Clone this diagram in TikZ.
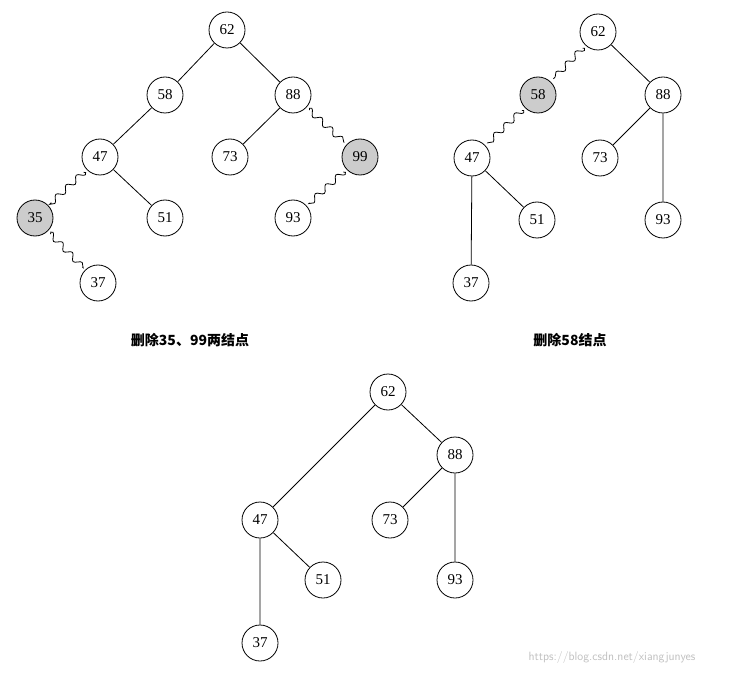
\documentclass[tikz,border=0pt]{standalone}
\usepackage{fontspec}
\setmainfont{Liberation Serif}
\newfontfamily\cjk{Noto Sans CJK SC}
\usetikzlibrary{decorations.pathmorphing}
\begin{document}
\begin{tikzpicture}[x=1pt,y=-1pt,
  nd/.style={circle,draw,thick,minimum size=36pt,inner sep=0pt,font=\fontsize{15}{15}\selectfont},
  gr/.style={nd,fill=black!20},
  ed/.style={thick},
  wv/.style={thick,decorate,decoration={snake,amplitude=3pt,segment length=14pt},shorten <=4pt,shorten >=4pt},
  captxt/.style={font=\cjk\bfseries\fontsize{14}{14}\selectfont}]
\useasboundingbox (0,0) rectangle (738,676);
% tree 1
\node[nd] (a62) at (227,30) {62};
\node[nd] (a58) at (165,95) {58};
\node[nd] (a88) at (293,95) {88};
\node[nd] (a47) at (100,157) {47};
\node[nd] (a73) at (230,157) {73};
\node[gr] (a99) at (360,157) {99};
\node[gr] (a35) at (35,218) {35};
\node[nd] (a51) at (165,218) {51};
\node[nd] (a93) at (293,218) {93};
\node[nd] (a37) at (98,283) {37};
\draw[ed] (a62)--(a58) (a62)--(a88) (a58)--(a47) (a88)--(a73) (a47)--(a51);
\draw[wv] (a88)--(a99);
\draw[wv] (a99)--(a93);
\draw[wv] (a47)--(a35);
\draw[wv] (a35)--(a37);
\node[captxt] (c1) at (190,340) {删除35、99两结点};
% tree 2
\node[nd] (b62) at (598,32) {62};
\node[gr] (b58) at (538,95) {58};
\node[nd] (b88) at (663,95) {88};
\node[nd] (b47) at (472,158) {47};
\node[nd] (b73) at (600,158) {73};
\node[nd] (b51) at (537,220) {51};
\node[nd] (b93) at (663,220) {93};
\node[nd] (b37) at (471,283) {37};
\draw[ed] (b62)--(b88) (b88)--(b73) (b88)--(b93) (b47)--(b51) (b47)--(b37);
\draw[wv] (b62)--(b58);
\draw[wv] (b58)--(b47);
\node[captxt] (c2) at (570,340) {删除58结点};
% tree 3
\node[nd] (d62) at (388,392) {62};
\node[nd] (d88) at (455,455) {88};
\node[nd] (d47) at (260,520) {47};
\node[nd] (d73) at (390,520) {73};
\node[nd] (d51) at (323,580) {51};
\node[nd] (d93) at (455,580) {93};
\node[nd] (d37) at (260,643) {37};
\draw[ed] (d62)--(d47) (d62)--(d88) (d88)--(d73) (d88)--(d93) (d47)--(d51) (d47)--(d37);
\node[font=\sffamily\fontsize{12}{12}\selectfont,text=black!25] (wm) at (612,657) {https://blog.csdn.net/xiangjunyes};
\end{tikzpicture}
\end{document}
